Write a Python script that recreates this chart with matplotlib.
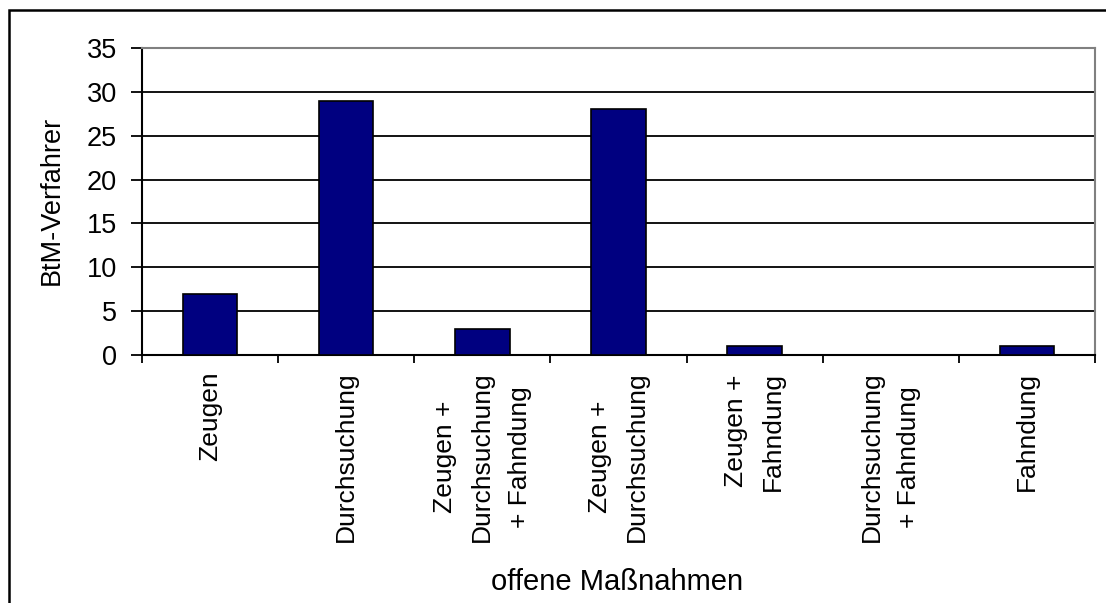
import matplotlib.pyplot as plt
from matplotlib.patches import Rectangle
import numpy as np

plt.rcParams['font.family'] = ['Liberation Sans', 'DejaVu Sans']

categories = ["Zeugen", "Durchsuchung", "Zeugen +\nDurchsuchung\n+ Fahndung",
              "Zeugen +\nDurchsuchung", "Zeugen +\nFahndung",
              "Durchsuchung\n+ Fahndung", "Fahndung"]
values = [7, 29, 3, 28, 1, 0, 1]
yticks = [0, 5, 10, 15, 20, 25, 30, 35]

W, H = 1106, 603
fig = plt.figure(figsize=(W / 100, H / 100), dpi=100)
ax = fig.add_axes([142 / W, 1 - 355 / H, (1095 - 142) / W, (355 - 48) / H])

x = np.arange(len(categories))
ax.bar(x, values, width=0.4, color="#000080", edgecolor="black", linewidth=1.2, zorder=3)

ax.set_xlim(-0.5, len(categories) - 0.5)
ax.set_ylim(0, 35)
ax.set_yticks(yticks)
for y in yticks[1:-1]:
    ax.axhline(y, color="black", linewidth=1.3, zorder=1)

ax.set_xticks(x)
ax.set_xticklabels(categories, rotation=90, ha="center", va="top",
                   multialignment="center", fontsize=19, linespacing=1.7)
ax.set_xticks(np.arange(-0.5, len(categories)), minor=True)
ax.tick_params(axis="x", which="major", length=0, pad=12)
ax.tick_params(axis="x", which="minor", length=6, width=1.3, direction="out")
ax.tick_params(axis="y", length=8, width=1.3, direction="out", pad=10, labelsize=19.5)

for s in ["top", "right"]:
    ax.spines[s].set_color("#808080")
    ax.spines[s].set_linewidth(1.5)
for s in ["left", "bottom"]:
    ax.spines[s].set_color("black")
    ax.spines[s].set_linewidth(1.5)

fig.text(52 / W, 1 - 200 / H, "BtM-Verfahrer", rotation=90, ha="center", va="center", fontsize=19.5)
fig.text(617 / W, 1 - 582 / H, "offene Maßnahmen", ha="center", va="center", fontsize=21)

fig.patches.append(Rectangle((8.5 / W, -0.1), 1.2, 1.1 - 10 / H, transform=fig.transFigure,
                             fill=False, edgecolor="black", linewidth=1.8))

fig.savefig("out.png", dpi=100)
